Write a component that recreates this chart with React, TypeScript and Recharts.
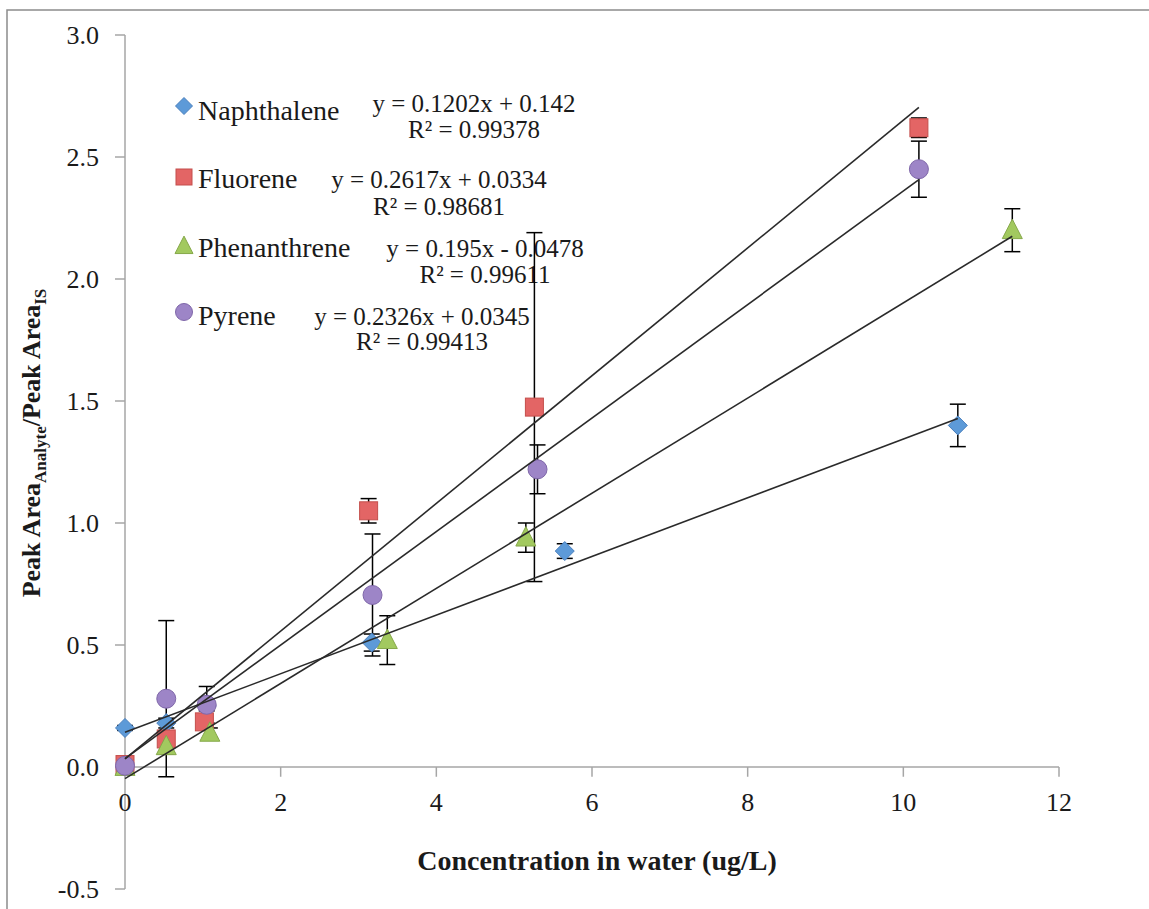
import React from 'react';
import {
  ScatterChart,
  Scatter,
  XAxis,
  YAxis,
  ErrorBar,
  ReferenceLine,
  Customized,
} from 'recharts';

// ---- data ----
const naphthalene = [
  { x: 0, y: 0.16, err: 0.01 },
  { x: 0.53, y: 0.18, err: 0.02 },
  { x: 1.05, y: 0.25, err: 0.02 },
  { x: 3.17, y: 0.51, err: 0.035 },
  { x: 5.65, y: 0.885, err: 0.03 },
  { x: 10.7, y: 1.4, err: 0.087 },
];
const fluorene = [
  { x: 0, y: 0.01, err: 0.01 },
  { x: 0.53, y: 0.115, err: 0.03 },
  { x: 1.02, y: 0.185, err: 0.03 },
  { x: 3.13, y: 1.05, err: 0.05 },
  { x: 5.26, y: 1.475, err: 0.715 },
  { x: 10.2, y: 2.62, err: 0.04 },
];
const phenanthrene = [
  { x: 0, y: 0.0, err: 0.01 },
  { x: 0.53, y: 0.085, err: 0.03 },
  { x: 1.09, y: 0.14, err: 0.02 },
  { x: 3.37, y: 0.52, err: 0.1 },
  { x: 5.15, y: 0.94, err: 0.06 },
  { x: 11.4, y: 2.2, err: 0.088 },
];
const pyrene = [
  { x: 0, y: 0.005, err: 0.01 },
  { x: 0.53, y: 0.28, err: 0.32 },
  { x: 1.05, y: 0.255, err: 0.075 },
  { x: 3.18, y: 0.705, err: 0.25 },
  { x: 5.3, y: 1.22, err: 0.1 },
  { x: 10.2, y: 2.45, err: 0.115 },
];

// trendline end points (from the printed equations)
const naphTrend = [{ x: 0, y: 0.142 }, { x: 10.7, y: 1.428 }];
const fluoTrend = [{ x: 0, y: 0.0334 }, { x: 10.2, y: 2.703 }];
const phenTrend = [{ x: 0, y: -0.0478 }, { x: 11.4, y: 2.175 }];
const pyreTrend = [{ x: 0, y: 0.0345 }, { x: 10.2, y: 2.407 }];

const seriesNames = ['Naphthalene', 'Fluorene', 'Phenanthrene', 'Pyrene'];
const equations = [
  'y = 0.1202x + 0.142',
  'y = 0.2617x + 0.0334',
  'y = 0.195x - 0.0478',
  'y = 0.2326x + 0.0345',
];
const rSquared = ['R² = 0.99378', 'R² = 0.98681', 'R² = 0.99611', 'R² = 0.99413'];

const xTicks = [0, 2, 4, 6, 8, 10, 12];
const yTicks = [-0.5, 0, 0.5, 1, 1.5, 2, 2.5, 3];

// ---- styles ----
const FONT = '"Liberation Serif", "Times New Roman", serif';
const AXIS = '#a6a6a6';
const TEXT = '#1a1a1a';
const TREND = '#2a2a2a';
const C = {
  blue: { fill: '#5d9ad8', stroke: '#4a7fbd' },
  red: { fill: '#e36565', stroke: '#c44f4c' },
  green: { fill: '#a2c95f', stroke: '#86a84a' },
  purple: { fill: '#9d85c7', stroke: '#7f67a9' },
};

const diamondPath = (cx: number, cy: number, r: number) =>
  `M${cx},${cy - r}L${cx + r},${cy}L${cx},${cy + r}L${cx - r},${cy}Z`;
const trianglePath = (cx: number, cy: number, s: number) =>
  `M${cx},${cy - s * 0.55}L${cx + s / 2},${cy + s * 0.42}L${cx - s / 2},${cy + s * 0.42}Z`;

const DiamondShape = (p: any) => (
  <path d={diamondPath(p.cx, p.cy, 9.5)} fill={C.blue.fill} stroke={C.blue.stroke} strokeWidth={1} />
);
const SquareShape = (p: any) => (
  <rect x={p.cx - 9} y={p.cy - 9} width={18} height={18} fill={C.red.fill} stroke={C.red.stroke} strokeWidth={1} />
);
const TriangleShape = (p: any) => (
  <path d={trianglePath(p.cx, p.cy, 20)} fill={C.green.fill} stroke={C.green.stroke} strokeWidth={1} />
);
const CircleShape = (p: any) => (
  <circle cx={p.cx} cy={p.cy} r={9.5} fill={C.purple.fill} stroke={C.purple.stroke} strokeWidth={1} />
);
const NoShape = () => <g />;

const Decorations = () => {
  const mx = 184;
  const rows = [
    { my: 106, nameY: 120, eqX: 474, eqY: 112, rY: 138 },
    { my: 177, nameY: 188, eqX: 439, eqY: 188, rY: 215 },
    { my: 246, nameY: 257, eqX: 485, eqY: 257, rY: 283 },
    { my: 312, nameY: 325, eqX: 422, eqY: 325, rY: 350 },
  ];
  const markers = [
    <path key="m0" d={diamondPath(mx, rows[0].my, 8.5)} fill={C.blue.fill} stroke={C.blue.stroke} />,
    <rect key="m1" x={mx - 8} y={rows[1].my - 8} width={16} height={16} fill={C.red.fill} stroke={C.red.stroke} />,
    <path key="m2" d={trianglePath(mx, rows[2].my, 18)} fill={C.green.fill} stroke={C.green.stroke} />,
    <circle key="m3" cx={mx} cy={rows[3].my} r={8.5} fill={C.purple.fill} stroke={C.purple.stroke} />,
  ];
  return (
    <g>
      <rect x={7} y={10} width={1160} height={920} fill="none" stroke="#8c8c8c" strokeWidth={1.5} />
      {rows.map((r, i) => (
        <g key={i}>
          {markers[i]}
          <text x={198} y={r.nameY} fontFamily={FONT} fontSize={28} fill={TEXT}>
            {seriesNames[i]}
          </text>
          <text x={r.eqX} y={r.eqY} fontFamily={FONT} fontSize={25} fill={TEXT} textAnchor="middle">
            {equations[i]}
          </text>
          <text x={r.eqX} y={r.rY} fontFamily={FONT} fontSize={25} fill={TEXT} textAnchor="middle">
            {rSquared[i]}
          </text>
        </g>
      ))}
      <text
        x={597}
        y={870}
        fontFamily={FONT}
        fontSize={28}
        fontWeight="bold"
        fill={TEXT}
        textAnchor="middle"
      >
        Concentration in water (ug/L)
      </text>
      <text
        transform="translate(40,443) rotate(-90)"
        fontFamily={FONT}
        fontSize={26}
        fontWeight="bold"
        fill={TEXT}
        textAnchor="middle"
      >
        Peak Area
        <tspan dy={6} fontSize={17}>Analyte</tspan>
        <tspan dy={-6}>/Peak Area</tspan>
        <tspan dy={6} fontSize={17}>IS</tspan>
      </text>
    </g>
  );
};

export default function App() {
  return (
    <div style={{ position: 'absolute', left: 0, top: 0, width: 1149, height: 909, background: '#fff' }}>
      <ScatterChart width={1149} height={909} margin={{ top: 35, right: 90, bottom: 20, left: 0 }}>
        <XAxis type="number" dataKey="x" domain={[0, 12]} ticks={xTicks} hide />
        <YAxis
          type="number"
          dataKey="y"
          domain={[-0.5, 3]}
          ticks={yTicks}
          interval={0}
          width={125}
          tickFormatter={(v: number) => v.toFixed(1)}
          axisLine={{ stroke: AXIS, strokeWidth: 1.5 }}
          tickLine={{ stroke: AXIS, strokeWidth: 1.5 }}
          tickSize={10}
          tickMargin={16}
          tick={{ fontFamily: FONT, fontSize: 26, fill: TEXT }}
        />
        <ReferenceLine y={0} stroke={AXIS} strokeWidth={1.5} />
        {xTicks.map((v) => (
          <ReferenceLine
            key={'xt' + v}
            segment={[{ x: v, y: 0 }, { x: v, y: -0.04 }]}
            stroke={AXIS}
            strokeWidth={1.5}
            label={{ value: String(v), position: 'bottom', offset: 16, fontFamily: FONT, fontSize: 26, fill: TEXT }}
          />
        ))}
        <Scatter name="Naphthalene" data={naphthalene} shape={DiamondShape} isAnimationActive={false}>
          <ErrorBar dataKey="err" direction="y" width={8} stroke="#000" strokeWidth={1.5} />
        </Scatter>
        <Scatter name="Fluorene" data={fluorene} shape={SquareShape} isAnimationActive={false}>
          <ErrorBar dataKey="err" direction="y" width={8} stroke="#000" strokeWidth={1.5} />
        </Scatter>
        <Scatter name="Phenanthrene" data={phenanthrene} shape={TriangleShape} isAnimationActive={false}>
          <ErrorBar dataKey="err" direction="y" width={8} stroke="#000" strokeWidth={1.5} />
        </Scatter>
        <Scatter name="Pyrene" data={pyrene} shape={CircleShape} isAnimationActive={false}>
          <ErrorBar dataKey="err" direction="y" width={8} stroke="#000" strokeWidth={1.5} />
        </Scatter>
        <Scatter data={naphTrend} shape={NoShape} line={{ stroke: TREND, strokeWidth: 1.6 }} isAnimationActive={false} legendType="none" />
        <Scatter data={fluoTrend} shape={NoShape} line={{ stroke: TREND, strokeWidth: 1.6 }} isAnimationActive={false} legendType="none" />
        <Scatter data={phenTrend} shape={NoShape} line={{ stroke: TREND, strokeWidth: 1.6 }} isAnimationActive={false} legendType="none" />
        <Scatter data={pyreTrend} shape={NoShape} line={{ stroke: TREND, strokeWidth: 1.6 }} isAnimationActive={false} legendType="none" />
        <Customized component={<Decorations />} />
      </ScatterChart>
    </div>
  );
}
